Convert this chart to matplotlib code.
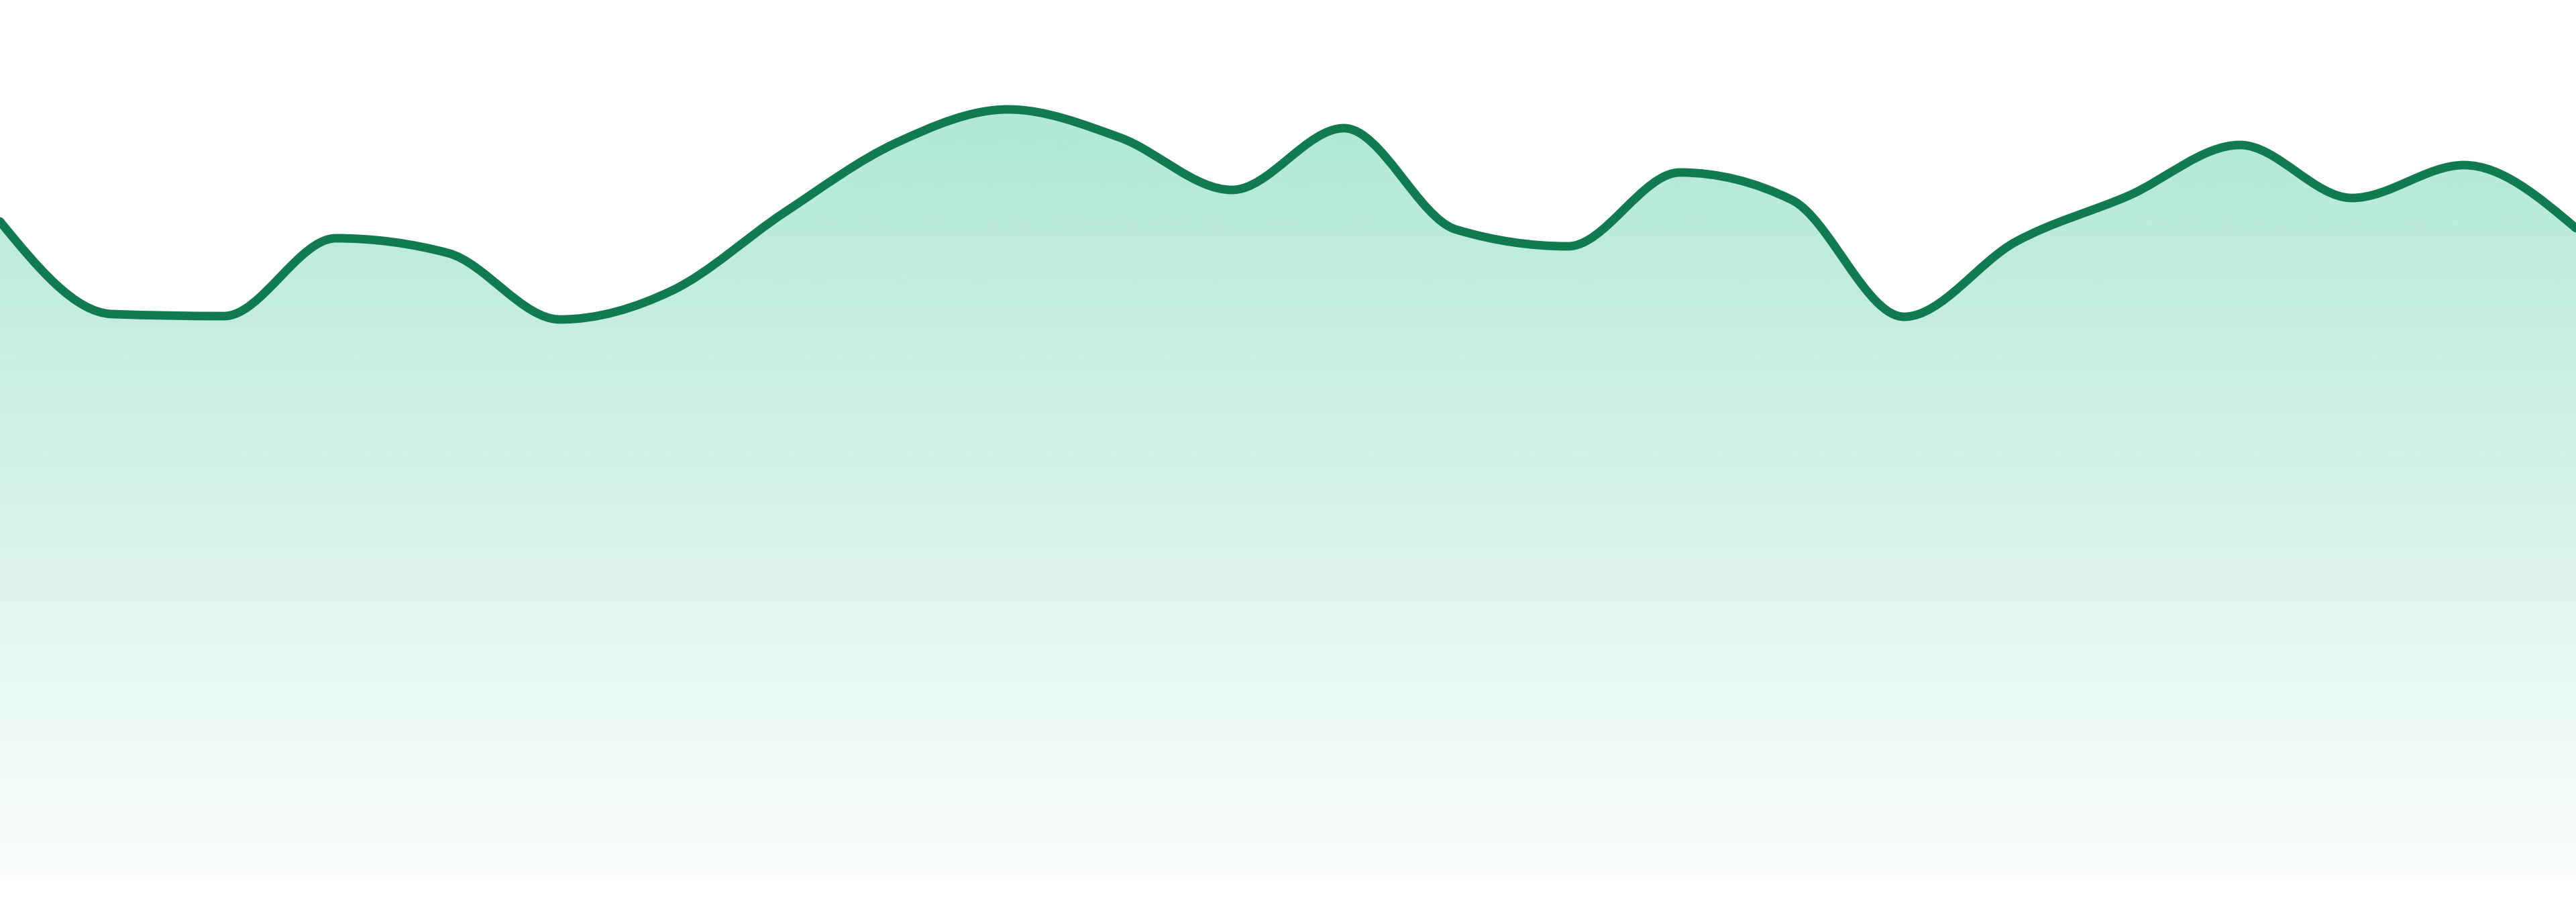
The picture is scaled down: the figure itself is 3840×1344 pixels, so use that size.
import numpy as np
import matplotlib
matplotlib.use("Agg")
import matplotlib.pyplot as plt
from matplotlib.path import Path
from matplotlib.patches import PathPatch
from matplotlib.colors import to_rgb

# ---- data ----
x_index = list(range(24))
values = [97.5, 83.7, 83.4, 95.0, 92.8, 82.9, 87.2, 98.8, 109.2, 114.2, 110.0, 102.2,
          111.4, 96.3, 93.8, 104.8, 100.7, 83.3, 94.5, 101.3, 108.9, 101.0, 105.9, 96.5]

line_color = "#117a52"
fill_color = "#10b981"


def monotone_slopes(x, y):
    x = np.asarray(x, float)
    y = np.asarray(y, float)
    n = len(x)
    h = np.diff(x)
    s = np.diff(y) / h
    t = np.zeros(n)
    for i in range(1, n - 1):
        h0, h1 = h[i - 1], h[i]
        s0, s1 = s[i - 1], s[i]
        p = (s0 * h1 + s1 * h0) / (h0 + h1)
        t[i] = (np.sign(s0) + np.sign(s1)) * min(abs(s0), abs(s1), 0.5 * abs(p))
    t[0] = (3 * s[0] - t[1]) / 2
    t[-1] = (3 * s[-1] - t[-2]) / 2
    return t


def bezier_vertices(x, y):
    t = monotone_slopes(x, y)
    verts = [(x[0], y[0])]
    codes = [Path.MOVETO]
    for i in range(len(x) - 1):
        dx = (x[i + 1] - x[i]) / 3
        verts += [(x[i] + dx, y[i] + dx * t[i]),
                  (x[i + 1] - dx, y[i + 1] - dx * t[i + 1]),
                  (x[i + 1], y[i + 1])]
        codes += [Path.CURVE4] * 3
    return verts, codes


fig = plt.figure(figsize=(19.2, 6.72), dpi=200)
ax = fig.add_axes([0, 0, 1, 1])
ax.set_xlim(x_index[0], x_index[-1])
ax.set_ylim(-3.9, 130.5)
ax.axis("off")

verts, codes = bezier_vertices(x_index, values)

# area path
a_verts = verts + [(x_index[-1], 0), (x_index[0], 0), verts[0]]
a_codes = codes + [Path.LINETO, Path.LINETO, Path.CLOSEPOLY]
area = PathPatch(Path(a_verts, a_codes), facecolor="none", edgecolor="none")
ax.add_patch(area)

top = max(values)
grad = np.linspace(0.02, 0.33, 512).reshape(-1, 1)
rgb = np.array(to_rgb(fill_color))
img = np.zeros((512, 1, 4))
img[..., :3] = rgb
img[..., 3] = grad
im = ax.imshow(img, extent=[x_index[0], x_index[-1], 0, top], origin="lower",
               aspect="auto", interpolation="bilinear", zorder=1)
im.set_clip_path(area)

line = PathPatch(Path(verts, codes), facecolor="none", edgecolor=line_color,
                 linewidth=4.6, zorder=3, capstyle="round", joinstyle="round")
ax.add_patch(line)

fig.savefig("out.png", dpi=200, facecolor="white")
